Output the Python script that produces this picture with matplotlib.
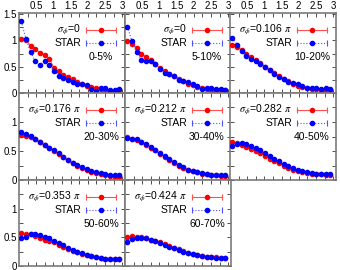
import numpy as np
import matplotlib
matplotlib.use("Agg")
import matplotlib.pyplot as plt
from matplotlib.lines import Line2D

plt.rcParams['font.family'] = ['Liberation Sans', 'DejaVu Sans']
plt.rcParams['mathtext.fontset'] = 'stix'

# ---- data ----
x = np.linspace(0.068, 2.924, 22)

labels = ["0-5%", "5-10%", "10-20%", "20-30%", "30-40%", "40-50%", "50-60%", "60-70%"]
sigmas = [r"$\sigma_\phi$=0", r"$\sigma_\phi$=0", r"$\sigma_\phi$=0.106 $\pi$",
          r"$\sigma_\phi$=0.176 $\pi$", r"$\sigma_\phi$=0.212 $\pi$", r"$\sigma_\phi$=0.282 $\pi$",
          r"$\sigma_\phi$=0.353 $\pi$", r"$\sigma_\phi$=0.424 $\pi$"]

model_0_5 = [1.02, 1.0, 0.9, 0.83, 0.76, 0.73, 0.65, 0.47, 0.41, 0.35, 0.3, 0.26, 0.2, 0.17, 0.13, 0.11, 0.09, 0.07, 0.06, 0.045, 0.045, 0.06]
star_0_5 = [1.36, 1.02, 0.78, 0.6, 0.53, 0.6, 0.53, 0.42, 0.32, 0.28, 0.25, 0.2, 0.17, 0.18, 0.15, 0.07, 0.04, 0.1, 0.1, 0.05, 0.06, 0.08]
model_5_10 = [0.98, 0.93, 0.85, 0.75, 0.68, 0.62, 0.55, 0.47, 0.42, 0.37, 0.32, 0.27, 0.22, 0.18, 0.15, 0.12, 0.1, 0.08, 0.06, 0.05, 0.05, 0.05]
star_5_10 = [1.26, 0.98, 0.78, 0.63, 0.6, 0.6, 0.55, 0.45, 0.38, 0.36, 0.32, 0.25, 0.22, 0.2, 0.18, 0.13, 0.08, 0.1, 0.1, 0.07, 0.07, 0.06]
model_10_20 = [0.92, 0.88, 0.82, 0.75, 0.68, 0.62, 0.57, 0.5, 0.44, 0.38, 0.32, 0.27, 0.22, 0.18, 0.14, 0.12, 0.1, 0.08, 0.07, 0.06, 0.06, 0.06]
star_10_20 = [1.05, 0.92, 0.8, 0.7, 0.64, 0.6, 0.56, 0.5, 0.43, 0.36, 0.31, 0.27, 0.21, 0.19, 0.18, 0.14, 0.1, 0.1, 0.09, 0.08, 0.09, 0.08]
model_20_30 = [0.78, 0.76, 0.74, 0.7, 0.65, 0.6, 0.55, 0.5, 0.44, 0.39, 0.34, 0.29, 0.24, 0.2, 0.17, 0.14, 0.12, 0.1, 0.08, 0.07, 0.06, 0.06]
star_20_30 = [0.83, 0.8, 0.76, 0.71, 0.66, 0.61, 0.56, 0.51, 0.46, 0.4, 0.35, 0.3, 0.26, 0.22, 0.19, 0.16, 0.14, 0.12, 0.1, 0.09, 0.08, 0.08]
model_30_40 = [0.74, 0.71, 0.69, 0.65, 0.61, 0.56, 0.51, 0.45, 0.4, 0.35, 0.3, 0.25, 0.21, 0.18, 0.15, 0.13, 0.11, 0.1, 0.09, 0.08, 0.07, 0.07]
star_30_40 = [0.73, 0.71, 0.7, 0.66, 0.62, 0.57, 0.52, 0.47, 0.42, 0.36, 0.31, 0.26, 0.22, 0.18, 0.16, 0.14, 0.12, 0.1, 0.09, 0.08, 0.08, 0.08]
model_40_50 = [0.65, 0.64, 0.6, 0.57, 0.54, 0.5, 0.46, 0.42, 0.37, 0.33, 0.29, 0.25, 0.21, 0.18, 0.16, 0.14, 0.12, 0.11, 0.1, 0.1, 0.09, 0.09]
star_40_50 = [0.59, 0.62, 0.64, 0.62, 0.59, 0.55, 0.51, 0.47, 0.42, 0.37, 0.32, 0.28, 0.24, 0.2, 0.18, 0.15, 0.13, 0.12, 0.11, 0.1, 0.1, 0.1]
model_50_60 = [0.58, 0.55, 0.55, 0.52, 0.48, 0.46, 0.44, 0.41, 0.37, 0.34, 0.3, 0.27, 0.24, 0.21, 0.19, 0.17, 0.15, 0.14, 0.13, 0.12, 0.12, 0.12]
star_50_60 = [0.48, 0.51, 0.55, 0.56, 0.54, 0.51, 0.48, 0.44, 0.4, 0.36, 0.32, 0.28, 0.25, 0.22, 0.2, 0.18, 0.16, 0.14, 0.13, 0.12, 0.12, 0.12]
model_60_70 = [0.51, 0.52, 0.51, 0.5, 0.48, 0.46, 0.44, 0.41, 0.38, 0.35, 0.32, 0.29, 0.26, 0.23, 0.21, 0.19, 0.17, 0.16, 0.15, 0.15, 0.14, 0.14]
star_60_70 = [0.41, 0.47, 0.49, 0.49, 0.48, 0.46, 0.43, 0.4, 0.37, 0.34, 0.31, 0.28, 0.25, 0.23, 0.21, 0.19, 0.17, 0.16, 0.15, 0.14, 0.14, 0.14]

models = [model_0_5, model_5_10, model_10_20, model_20_30, model_30_40, model_40_50, model_50_60, model_60_70]
stars = [star_0_5, star_5_10, star_10_20, star_20_30, star_30_40, star_40_50, star_50_60, star_60_70]

xtick_major = [0.5, 1, 1.5, 2, 2.5, 3]
xtick_labels = ["0.5", "1", "1.5", "2", "2.5", "3"]

# ---- layout (pixels) ----
W, H = 340, 270
fig = plt.figure(figsize=(W / 100, H / 100), dpi=100)
col_left = [19, 125, 230]
col_w = 105.5
rows = [(13, 93), (93, 180), (180, 266)]

RED = '#ff0000'
BLUE = '#0000ff'
RED_L = '#ff5050'
BLUE_L = '#5050ff'
FRAME = '#7a7a7a'

for i in range(8):
    r, c = divmod(i, 3)
    top, bot = rows[r]
    hpx = bot - top
    ax = fig.add_axes([col_left[c] / W, 1 - bot / H, col_w / W, hpx / H])
    ax.set_xlim(0, 3.07)
    ax.set_ylim(0, 1.52 if r == 0 else 1.5)
    ax.plot(x, models[i], color=RED_L, lw=0.8, marker='o', ms=3, mec=RED, mfc=RED, zorder=3)
    ax.plot(x, stars[i], color=BLUE_L, lw=0.8, ls=':', marker='o', ms=3, mec=BLUE, mfc=BLUE, zorder=4)

    ax.set_xticks(xtick_major)
    ax.set_xticks(np.arange(0.25, 3.01, 0.25), minor=True)
    if r == 0:
        ax.set_yticks([0, 0.5, 1, 1.5])
        ax.set_yticklabels(["0", "0.5", "1", "1.5"])
    else:
        ax.set_yticks([0, 0.5, 1])
        ax.set_yticklabels(["0", "0.5", "1"])
    ax.set_yticks(np.arange(0.25, 1.51, 0.25), minor=True)
    ax.set_xticklabels(xtick_labels)
    ax.tick_params(which='both', direction='in', top=True, right=True, length=3,
                   width=0.6, color='#333333', labelsize=7, pad=1.5)
    ax.tick_params(labeltop=(r == 0), labelbottom=False, labelleft=(c == 0))
    for s in ax.spines.values():
        s.set_color(FRAME)
        s.set_linewidth(1.2)

    # legend
    def fx(px):
        return px / col_w

    def fy(py):
        return 1 - py / hpx

    for k, (txt, col, lcol, ls) in enumerate([(sigmas[i], RED, RED_L, '-'), ("STAR", BLUE, BLUE_L, ':')]):
        yy = fy(17 + 13 * k)
        ax.text(fx(62), yy, txt, transform=ax.transAxes, ha='right', va='center', fontsize=7.5)
        ax.add_line(Line2D([fx(67), fx(97)], [yy, yy], transform=ax.transAxes, color=lcol,
                           lw=0.8, ls=ls))
        ax.add_line(Line2D([fx(67), fx(97)], [yy, yy], transform=ax.transAxes, color=lcol,
                           lw=0, marker='|', ms=4, mew=0.8))
        ax.add_line(Line2D([fx(82)], [yy], transform=ax.transAxes, color=col,
                           lw=0, marker='o', ms=3))
    ax.text(fx(82), fy(44), labels[i], transform=ax.transAxes, ha='center', va='center', fontsize=7.5)

fig.savefig("out.png", dpi=100)
